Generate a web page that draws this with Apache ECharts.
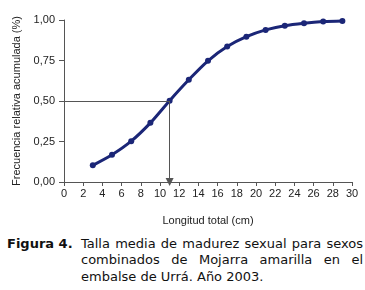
<!DOCTYPE html>
<html>
<head>
<meta charset="utf-8">
<script src="https://cdn.jsdelivr.net/npm/echarts@6/dist/echarts.min.js"></script>
<style>
  html, body { margin: 0; padding: 0; background: #fff; }
  #chart { position: absolute; left: 0; top: 0; width: 365px; height: 232px; }
  #cap { position: absolute; left: 7px; top: 236px; width: 356px; font-family: "DejaVu Sans", Verdana, sans-serif; font-size: 13px; line-height: 16.3px; color: #111; display: flex; }
  #cap b { width: 74px; flex: none; white-space: nowrap; }
  #cap p { margin: 0; flex: 1; text-align: justify; }
</style>
</head>
<body>
<div id="chart"></div>
<div id="cap"><b>Figura 4.</b><p>Talla media de madurez sexual para sexos combinados de Mojarra amarilla en el embalse de Urrá. Año 2003.</p></div>
<script>
const lengths = [3, 5, 7, 9, 11, 13, 15, 17, 19, 21, 23, 25, 27, 29];
const cumFreq = [0.103, 0.168, 0.252, 0.365, 0.502, 0.631, 0.748, 0.836, 0.897, 0.939, 0.965, 0.980, 0.990, 0.994];
const l50 = 11;
const p50 = 0.5;
const yTicks = ['0,00', '0,25', '0,50', '0,75', '1,00'];

const chart = echarts.init(document.getElementById('chart'), null, { renderer: 'canvas' });
const axisText = { color: '#222', fontFamily: 'Liberation Sans, Arial, sans-serif', fontSize: 11 };
chart.setOption({
  animation: false,
  grid: { left: 64, right: 13, top: 20, bottom: 50 },
  xAxis: {
    type: 'value', min: 0, max: 30, interval: 2,
    name: 'Longitud total (cm)', nameLocation: 'middle', nameGap: 33,
    nameTextStyle: axisText,
    axisLine: { lineStyle: { color: '#555', width: 1 } },
    axisTick: { length: 4, lineStyle: { color: '#555' } },
    axisLabel: Object.assign({}, axisText, { margin: 6 }),
    splitLine: { show: false }
  },
  yAxis: {
    type: 'value', min: 0, max: 1, interval: 0.25,
    name: 'Frecuencia relativa acumulada (%)', nameLocation: 'middle', nameGap: 40,
    nameTextStyle: axisText,
    axisLine: { show: true, lineStyle: { color: '#555', width: 1 } },
    axisTick: { show: true, length: 5, lineStyle: { color: '#555' } },
    axisLabel: Object.assign({}, axisText, { margin: 9, formatter: v => yTicks[Math.round(v / 0.25)] }),
    splitLine: { show: false }
  },
  series: [
    {
      type: 'line',
      data: lengths.map((x, i) => [x, cumFreq[i]]),
      smooth: 0.3,
      symbol: 'circle', symbolSize: 6,
      lineStyle: { color: '#1b2677', width: 3 },
      itemStyle: { color: '#1b2677' },
      z: 3,
      markLine: {
        silent: true,
        animation: false,
        label: { show: false },
        lineStyle: { color: '#555', width: 1, type: 'solid' },
        data: [
          [{ coord: [0, p50], symbol: 'none' }, { coord: [l50, p50], symbol: 'none' }],
          [{ coord: [l50, p50], symbol: 'none' }, { coord: [l50, 0], symbol: 'triangle', symbolSize: [8, 8], symbolRotate: 180 }]
        ]
      }
    }
  ]
});
</script>
</body>
</html>
